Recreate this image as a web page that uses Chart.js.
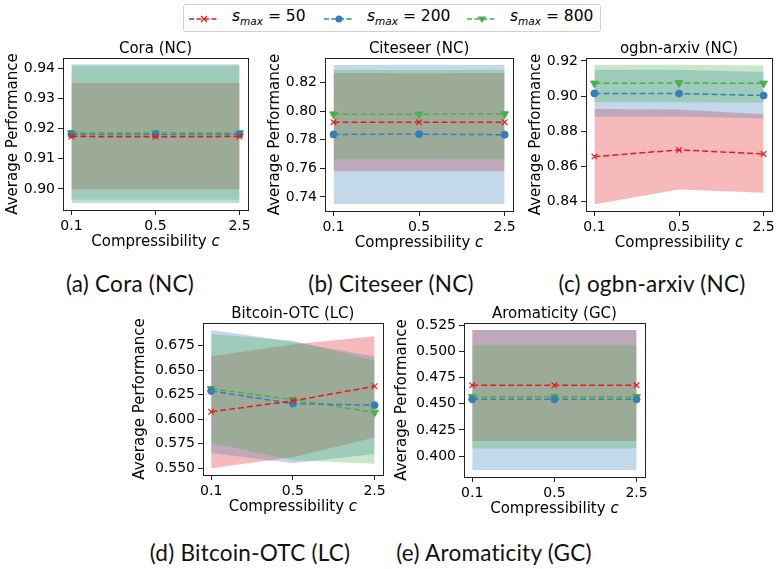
<!DOCTYPE html>
<html>
<head>
<meta charset="utf-8">
<script src="https://cdn.jsdelivr.net/npm/chart.js@4/dist/chart.umd.min.js"></script>
<style>
  body { margin: 0; background: #fff; width: 778px; height: 569px; position: relative; overflow: hidden; font-family: "DejaVu Sans", sans-serif; }
  .panel { position: absolute; }
  .legend { position: absolute; left: 183px; top: 4px; width: 416px; height: 26px; border: 1px solid #d0d0d0; border-radius: 3px; font-size: 15.5px; }
  .item { position: absolute; top: 3px; white-space: nowrap; }
  .item svg { position: absolute; top: 5px; }
  .item span { position: absolute; left: 44px; top: -1px; }
  .cap { position: absolute; font-family: Lato, sans-serif; font-size: 22.5px; letter-spacing: 0.25px; color: #111; transform: translate(-50%, -50%); white-space: nowrap; }
</style>
</head>
<body>
<div class="legend">
  <div class="item" style="left:4px"><svg width="32" height="12"></svg><span><i>s</i><sub style="font-size:10.5px"><i>max</i></sub> = 50</span></div>
  <div class="item" style="left:139px"><svg width="32" height="12"></svg><span><i>s</i><sub style="font-size:10.5px"><i>max</i></sub> = 200</span></div>
  <div class="item" style="left:282px"><svg width="32" height="12"></svg><span><i>s</i><sub style="font-size:10.5px"><i>max</i></sub> = 800</span></div>
</div>

<div class="panel" style="left:0px;top:38px;width:254px;height:214px"><canvas id="ca"></canvas></div>
<div class="panel" style="left:262px;top:38px;width:257px;height:215px"><canvas id="cb"></canvas></div>
<div class="panel" style="left:523px;top:38px;width:255px;height:215px"><canvas id="cc"></canvas></div>
<div class="panel" style="left:127px;top:303px;width:262px;height:214px"><canvas id="cd"></canvas></div>
<div class="panel" style="left:389px;top:303px;width:262px;height:216px"><canvas id="ce"></canvas></div>

<div class="cap" style="left:130px;top:283px">(a) Cora (NC)</div>
<div class="cap" style="left:391px;top:283px">(b) Citeseer (NC)</div>
<div class="cap" style="left:652px;top:283px">(c) ogbn-arxiv (NC)</div>
<div class="cap" style="left:250px;top:552px">(d) Bitcoin-OTC (LC)</div>
<div class="cap" style="left:494px;top:552px">(e) Aromaticity (GC)</div>

<script>
// compressibility values on the x axis
const cValues = [0.1, 0.5, 2.5];
const seriesLabels = ['s_max = 50', 's_max = 200', 's_max = 800'];

// rows: s_max = 50, 200, 800 ; columns: c = 0.1, 0.5, 2.5
const coraMean = [[0.9174, 0.9173, 0.9174], [0.9181, 0.9181, 0.9181], [0.9186, 0.9187, 0.9186]];
const coraLow  = [[0.8999, 0.8999, 0.8999], [0.8953, 0.8953, 0.8953], [0.8964, 0.8964, 0.8964]];
const coraHigh = [[0.9352, 0.9352, 0.9352], [0.9414, 0.9414, 0.9414], [0.9409, 0.9409, 0.9409]];
const coraTicks = [0.90, 0.91, 0.92, 0.93, 0.94];

const citeMean = [[0.7924, 0.7923, 0.7924], [0.7838, 0.7840, 0.7836], [0.7980, 0.7980, 0.7981]];
const citeLow  = [[0.7580, 0.7580, 0.7580], [0.7351, 0.7351, 0.7351], [0.7664, 0.7664, 0.7664]];
const citeHigh = [[0.8268, 0.8266, 0.8268], [0.8324, 0.8326, 0.8324], [0.8289, 0.8289, 0.8289]];
const citeTicks = [0.74, 0.76, 0.78, 0.80, 0.82];

const arxivMean = [[0.8657, 0.8695, 0.8672], [0.9016, 0.9015, 0.9004], [0.9073, 0.9075, 0.9073]];
const arxivLow  = [[0.8387, 0.8470, 0.8451], [0.8883, 0.8885, 0.8873], [0.8965, 0.8966, 0.8963]];
const arxivHigh = [[0.8927, 0.8925, 0.8897], [0.9150, 0.9150, 0.9137], [0.9177, 0.9178, 0.9175]];
const arxivTicks = [0.84, 0.86, 0.88, 0.90, 0.92];

const btcMean = [[0.6075, 0.6186, 0.6335], [0.6287, 0.6158, 0.6142], [0.6310, 0.6199, 0.6068]];
const btcLow  = [[0.5500, 0.5610, 0.5813], [0.5655, 0.5550, 0.5645], [0.5760, 0.5580, 0.5545]];
const btcHigh = [[0.6642, 0.6760, 0.6844], [0.6908, 0.6790, 0.6638], [0.6868, 0.6800, 0.6598]];
const btcTicks = [0.550, 0.575, 0.600, 0.625, 0.650, 0.675];

const aroMean = [[0.4676, 0.4676, 0.4676], [0.4542, 0.4542, 0.4542], [0.4568, 0.4568, 0.4568]];
const aroLow  = [[0.4143, 0.4143, 0.4143], [0.3867, 0.3867, 0.3867], [0.4073, 0.4073, 0.4073]];
const aroHigh = [[0.5205, 0.5205, 0.5205], [0.5205, 0.5205, 0.5205], [0.5059, 0.5059, 0.5059]];
const aroTicks = [0.400, 0.425, 0.450, 0.475, 0.500, 0.525];

const colors = ['#e41a1c', '#377eb8', '#4daf4a'];
const fills = ['rgba(228,26,28,0.3)', 'rgba(55,126,184,0.3)', 'rgba(77,175,74,0.3)'];
const pStyles = ['crossRot', 'circle', 'triangle'];
const pRadius = [4, 3.5, 4.5];
const pRot = [0, 0, 180];

Chart.defaults.font.family = 'DejaVu Sans';
Chart.defaults.color = '#000';

// legend samples
document.querySelectorAll('.legend svg').forEach((svg, i) => {
    let mk = '';
    if (i == 0) mk = '<path d="M13 3 L19 9 M19 3 L13 9" stroke="' + colors[0] + '" stroke-width="1.3"/>';
    if (i == 1) mk = '<circle cx="16" cy="6" r="3.5" fill="' + colors[1] + '"/>';
    if (i == 2) mk = '<path d="M11.5 3.5 L20.5 3.5 L16 10 Z" fill="' + colors[2] + '"/>';
    svg.innerHTML = '<line x1="1" y1="6" x2="31" y2="6" stroke="' + colors[i] + '" stroke-width="1.5" stroke-dasharray="5,2.5"/>' + mk;
});

// frame round the plot area + x label with italic c
const boxPlugin = {
    id: 'box',
    afterDraw(chart) {
        const a = chart.chartArea, ctx = chart.ctx;
        ctx.save();
        ctx.strokeStyle = '#222';
        ctx.lineWidth = 1;
        ctx.strokeRect(Math.round(a.left) + 0.5, Math.round(a.top) + 0.5, Math.round(a.right - a.left), Math.round(a.bottom - a.top));
        const t1 = 'Compressibility ', t2 = 'c';
        ctx.fillStyle = '#000';
        ctx.textBaseline = 'middle';
        ctx.font = '15px "DejaVu Sans"';
        const w1 = ctx.measureText(t1).width;
        ctx.font = 'oblique 15px "DejaVu Sans"';
        const w2 = ctx.measureText(t2).width;
        const x0 = (a.left + a.right) / 2 - (w1 + w2) / 2;
        const y0 = a.bottom + 32;
        ctx.font = '15px "DejaVu Sans"';
        ctx.fillText(t1, x0, y0);
        ctx.font = 'oblique 15px "DejaVu Sans"';
        ctx.fillText(t2, x0 + w1, y0);
        ctx.restore();
    }
};

function makePanel(id, title, mean, low, high, yMin, yMax, yTicks, dec, yW) {
    const pts = arr => cValues.map((c, j) => ({x: c, y: arr[j]}));
    const datasets = [];
    for (let i = 0; i < 3; i++) {
        datasets.push({
            label: seriesLabels[i],
            data: pts(mean[i]),
            borderColor: colors[i],
            backgroundColor: colors[i],
            borderWidth: 1.5,
            borderDash: [6, 3],
            pointStyle: pStyles[i],
            pointRadius: pRadius[i],
            pointRotation: pRot[i],
            pointBorderWidth: i == 0 ? 1.2 : 1,
            fill: false
        });
    }
    // bands: green, blue, red (red drawn first)
    for (let i = 2; i >= 0; i--) {
        datasets.push({ label: '', data: pts(low[i]), borderWidth: 0, borderColor: 'transparent', pointRadius: 0, fill: false });
        datasets.push({ label: '', data: pts(high[i]), borderWidth: 0, borderColor: 'transparent', pointRadius: 0, fill: '-1', backgroundColor: fills[i] });
    }
    const lc = Math.log10(cValues[0]), hc = Math.log10(cValues[cValues.length - 1]);
    const m = (hc - lc) * 0.05;
    return new Chart(document.getElementById(id), {
        type: 'line',
        data: { datasets },
        plugins: [boxPlugin],
        options: {
            responsive: true,
            maintainAspectRatio: false,
            animation: false,
            layout: { padding: 0 },
            plugins: {
                legend: { display: false },
                tooltip: { enabled: false },
                title: { display: true, text: title, fullSize: false, font: { size: 15, weight: 'normal' }, padding: { top: 2, bottom: 0 } }
            },
            scales: {
                x: {
                    type: 'logarithmic',
                    min: Math.pow(10, lc - m),
                    max: Math.pow(10, hc + m),
                    afterBuildTicks: s => { s.ticks = cValues.map(v => ({value: v})); },
                    afterFit: s => { s.height = 42; },
                    ticks: { font: { size: 14 }, padding: 3, maxRotation: 0, callback: v => String(v) },
                    grid: { drawOnChartArea: false, drawTicks: true, tickLength: 5, color: '#222' },
                    border: { display: true, color: '#222' }
                },
                y: {
                    min: yMin,
                    max: yMax,
                    afterBuildTicks: s => { s.ticks = yTicks.map(v => ({value: v})); },
                    afterFit: s => { s.width = yW; },
                    ticks: { font: { size: 14 }, padding: 3, callback: v => v.toFixed(dec) },
                    grid: { drawOnChartArea: false, drawTicks: true, tickLength: 5, color: '#222' },
                    border: { display: true, color: '#222' },
                    title: { display: true, text: 'Average Performance', font: { size: 15 }, padding: { top: 4, bottom: 0 } }
                }
            }
        }
    });
}

makePanel('ca', 'Cora (NC)', coraMean, coraLow, coraHigh, 0.8930, 0.9435, coraTicks, 2, 63);
makePanel('cb', 'Citeseer (NC)', citeMean, citeLow, citeHigh, 0.7302, 0.8373, citeTicks, 2, 63);
makePanel('cc', 'ogbn-arxiv (NC)', arxivMean, arxivLow, arxivHigh, 0.8348, 0.9217, arxivTicks, 2, 63);
makePanel('cd', 'Bitcoin-OTC (LC)', btcMean, btcLow, btcHigh, 0.5430, 0.6980, btcTicks, 3, 76);
makePanel('ce', 'Aromaticity (GC)', aroMean, aroLow, aroHigh, 0.3800, 0.5272, aroTicks, 3, 75);
</script>
</body>
</html>
